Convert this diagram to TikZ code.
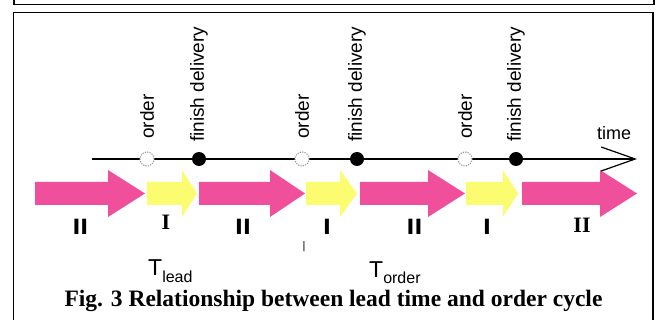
\documentclass[tikz,border=0pt]{standalone}
\usepackage{fontspec}
\setmainfont{Liberation Serif}
\newfontfamily\arialfont{Liberation Sans}
\newfontfamily\heavyfont{DejaVu Sans}
\usetikzlibrary{arrows.meta}
\definecolor{phasepink}{RGB}{240,80,155}
\definecolor{phaseyellow}{RGB}{252,252,112}
% fat block arrow: style, tail x, head base x, tip x
\newcommand{\phasearrow}[4]{%
  \fill[#1] (#2,182) -- (#3,182) -- (#3,170) -- (#4,193.5) -- (#3,217)
    -- (#3,205) -- (#2,205) -- cycle;}
\begin{document}
\begin{tikzpicture}[x=1pt,y=-1pt,
  frame/.style={line width=1.8pt},
  pinkphase/.style={fill=phasepink},
  yellowphase/.style={fill=phaseyellow},
  orderpt/.style={circle,draw=gray!80,dash pattern=on 1.2pt off 1.2pt,fill=white,
    minimum size=14pt,inner sep=0pt,line width=1.1pt},
  deliverypt/.style={circle,fill=black,minimum size=14pt,inner sep=0pt},
  eventlabel/.style={rotate=90,anchor=west,inner sep=0pt,
    font=\arialfont\fontsize{19}{21}\selectfont},
  heavymark/.style={anchor=base,inner sep=0pt,
    font=\heavyfont\bfseries\fontsize{21}{24}\selectfont},
  serifmark/.style={anchor=base,inner sep=0pt,
    font=\bfseries\fontsize{22}{24}\selectfont},
  periodlabel/.style={anchor=base west,inner sep=0pt,
    font=\arialfont\fontsize{23}{25}\selectfont}
]
\useasboundingbox (0,0) rectangle (658,320);

% frames
\draw[frame] (14,-2) -- (14,4.5) -- (654,4.5) -- (654,-2);
\draw[frame] (13.5,322) -- (13.5,12.5) -- (653,12.5) -- (653,322);

% phase arrows
\phasearrow{pinkphase}{35}{108}{145}
\phasearrow{yellowphase}{147}{182}{197}
\phasearrow{pinkphase}{199}{270}{305}
\phasearrow{yellowphase}{306}{340}{357}
\phasearrow{pinkphase}{360}{428}{465}
\phasearrow{yellowphase}{466}{503}{518}
\phasearrow{pinkphase}{522}{600}{637}

% time axis
\coordinate (tstart) at (92,159);
\coordinate (tend) at (637,159);
\draw[line width=1.2pt,-{Straight Barb[length=34pt,width=24pt,line width=1.2pt]}]
  (tstart) -- (tend);
\node[anchor=base west,inner sep=0pt,font=\arialfont\fontsize{18}{20}\selectfont]
  (timelbl) at (597,140) {time};

% events on the axis
\node[orderpt] (o1) at (147,159) {};
\node[deliverypt] (d1) at (199,159) {};
\node[orderpt] (o2) at (302,159) {};
\node[deliverypt] (d2) at (357,159) {};
\node[orderpt] (o3) at (465,159) {};
\node[deliverypt] (d3) at (516,159) {};

\foreach \p in {o1,o2,o3}
  \node[eventlabel] (\p lbl) at ([yshift=20pt]\p.center) {order};
\foreach \p in {d1,d2,d3}
  \node[eventlabel] (\p lbl) at ([yshift=17pt]\p.center) {finish delivery};

% phase marks
\node[heavymark] (m1) at (80.5,235) {II};
\node[serifmark] (m2) at (166,230) {I};
\node[heavymark] (m3) at (243,235) {II};
\node[anchor=base,inner sep=0pt,font=\arialfont\fontsize{11}{12}\selectfont]
  (m4a) at (304,250) {|};
\node[heavymark] (m4) at (327,235) {I};
\node[heavymark] (m5) at (414.5,235) {II};
\node[heavymark] (m6) at (487,235) {I};
\node[serifmark] (m7) at (582,233) {II};

% period labels
\node[periodlabel] (tlead) at (148,276)
  {T\raisebox{-6pt}{\fontsize{16}{18}\selectfont lead}};
\node[periodlabel] (torder) at (369,277)
  {T\raisebox{-6pt}{\fontsize{16}{18}\selectfont order}};

% caption
\node[anchor=base,inner sep=0pt,font=\bfseries\fontsize{23.5}{26}\selectfont]
  (caption) at (333.5,306) {Fig. 3 Relationship between lead time and order cycle};
\end{tikzpicture}
\end{document}
